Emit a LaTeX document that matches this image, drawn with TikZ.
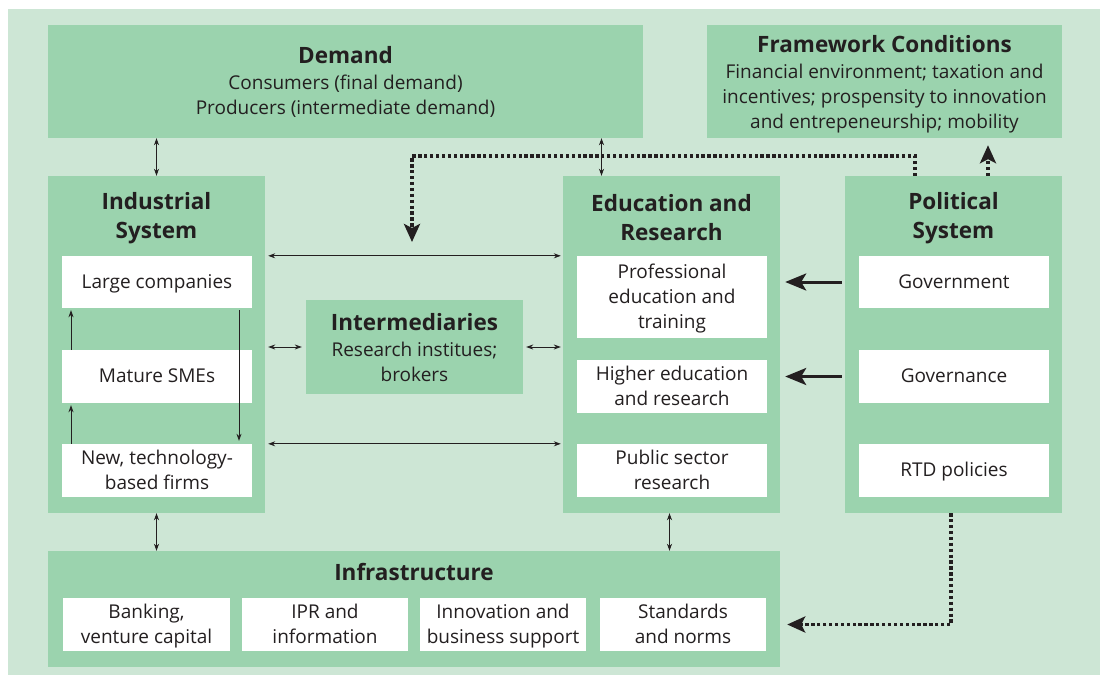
\documentclass[tikz,border=0pt]{standalone}
\usepackage{fontspec}
\setmainfont{Open Sans}
\usetikzlibrary{arrows.meta,positioning,calc}
\definecolor{bggreen}{HTML}{CDE6D5}
\definecolor{boxgreen}{HTML}{9BD3AE}
\definecolor{ink}{HTML}{231F20}
\tikzset{
  grnbox/.style={fill=boxgreen,draw=none,inner sep=0pt},
  whtbox/.style={fill=white,draw=none,inner sep=0pt,minimum width=190pt,minimum height=53pt,
    align=center,font=\fontsize{19}{25}\selectfont,text=ink,text depth=1.5pt},
  ttl/.style={align=center,font=\fontsize{22.5}{29}\selectfont\bfseries,text=ink},
  txt/.style={align=center,font=\fontsize{19}{25}\selectfont,text=ink},
  dbl/.style={ink,line width=0.8pt,{Stealth[length=7pt,width=5pt]}-{Stealth[length=7pt,width=5pt]}},
  one/.style={ink,line width=0.8pt,-{Stealth[length=7pt,width=5pt]}},
  thick/.style={ink,line width=3pt,-{Stealth[length=21pt,width=17pt,inset=5pt]}},
  dots/.style={ink,line width=3.3pt,dash pattern=on 3.3pt off 2.6pt,-{Stealth[length=18pt,width=16pt,inset=4pt]}}
}
\begin{document}
\begin{tikzpicture}[x=1pt,y=-1pt]
\useasboundingbox (0,0) rectangle (1100,675);
\fill[bggreen] (8,9) rectangle (1100,675);

\node[grnbox,minimum width=595pt,minimum height=113pt] (dem) at (345.5,81.5) {};
\node[ttl] (demt) at (345.5,55) {Demand};
\node[txt] (demx) at (345.5,96) {Consumers (final demand)\\Producers (intermediate demand)};

\node[grnbox,minimum width=355pt,minimum height=113pt] (fw) at (884.5,81.5) {};
\node[ttl] (fwt) at (884.5,44) {Framework Conditions};
\node[txt] (fwx) at (884.5,98.5) {Financial environment; taxation and\\incentives; prospensity to innovation\\and entrepeneurship; mobility};

\node[grnbox,minimum width=217pt,minimum height=337pt] (ind) at (156.5,344.5) {};
\node[ttl] (indt) at (156.5,218) {Industrial\\System};
\node[whtbox,minimum height=52pt] (lg) at (157,282) {Large companies};
\node[whtbox] (ms) at (157,376.5) {Mature SMEs};
\node[whtbox] (nw) at (157,470.5) {New, technology-\\based firms};

\node[grnbox,minimum width=217pt,minimum height=94pt] (inter) at (414.5,347) {};
\node[ttl] (intert) at (414.5,322) {Intermediaries};
\node[txt] (interx) at (414.5,362) {Research institues;\\brokers};

\node[grnbox,minimum width=217pt,minimum height=337pt] (edu) at (671.5,344.5) {};
\node[ttl] (edut) at (671.5,218) {Education and\\Research};
\node[whtbox,minimum height=82pt] (prof) at (672,297) {Professional\\education and\\training};
\node[whtbox] (high) at (672,386.5) {Higher education\\and research};
\node[whtbox] (pub) at (672,470.5) {Public sector\\research};

\node[grnbox,minimum width=217pt,minimum height=337pt] (pol) at (953.5,344.5) {};
\node[ttl] (polt) at (953.5,218) {Political\\System};
\node[whtbox,minimum height=52pt] (gov) at (954,282) {Government};
\node[whtbox] (gvn) at (954,376.5) {Governance};
\node[whtbox] (rtd) at (954,470.5) {RTD policies};

\node[grnbox,minimum width=732pt,minimum height=116pt] (infra) at (414,609) {};
\node[ttl] (infrat) at (414,572) {Infrastructure};
\node[whtbox,minimum width=167pt] (bank) at (146.5,624.5) {Banking,\\venture capital};
\node[whtbox,minimum width=166pt] (ipr) at (325,624.5) {IPR and\\information};
\node[whtbox,minimum width=166pt] (inn) at (503,624.5) {Innovation and\\business support};
\node[whtbox,minimum width=166pt] (std) at (683,624.5) {Standards\\and norms};

\draw[dbl] (dem.south -| ind.north) -- (ind.north);
\draw[dbl] ([xshift=-70pt]edu.north |- dem.south) -- ([xshift=-70pt]edu.north);
\draw[dbl] (ind.south) -- (infra.north -| ind.south);
\draw[dbl] ([xshift=-2pt]edu.south) -- ([xshift=-2pt]edu.south |- infra.north);
\draw[dbl,shorten <=3pt,shorten >=2pt] (ind.east |- lg.north) -- (edu.west |- lg.north);
\draw[dbl,shorten <=3pt,shorten >=2pt] (ind.east |- nw.north) -- (edu.west |- nw.north);
\draw[dbl,shorten <=3pt,shorten >=4pt] (ind.east |- inter.center) -- (inter.west);
\draw[dbl,shorten <=3pt,shorten >=2pt] (inter.east) -- (edu.west |- inter.center);
\draw[one,shorten >=2pt] ([xshift=-86pt]ms.north) -- ([xshift=-86pt]lg.south);
\draw[one,shorten >=2pt] ([xshift=-86pt]nw.north) -- ([xshift=-86pt]ms.south);
\draw[one,shorten <=2pt,shorten >=3pt] ([xshift=82pt]lg.south) -- ([xshift=82pt]nw.north);

\draw[thick,shorten <=3pt,shorten >=18pt] (pol.west |- gov.west) -- (prof.east |- gov.west);
\draw[thick,shorten <=3pt,shorten >=18pt] (pol.west |- gvn.west) -- (high.east |- gvn.west);

\coordinate (dturn) at (412,156);
\coordinate (dend) at (412,242);
\draw[dots] ([xshift=-38.5pt]pol.north) |- (dturn) -- (dend);
\draw[dots,shorten >=7pt] ([xshift=34.5pt]pol.north) -- ([xshift=34.5pt]pol.north |- fw.south);
\draw[dots,shorten >=7pt] ([xshift=-2.5pt]pol.south) |- (std.east -| infra.east);
\end{tikzpicture}
\end{document}
